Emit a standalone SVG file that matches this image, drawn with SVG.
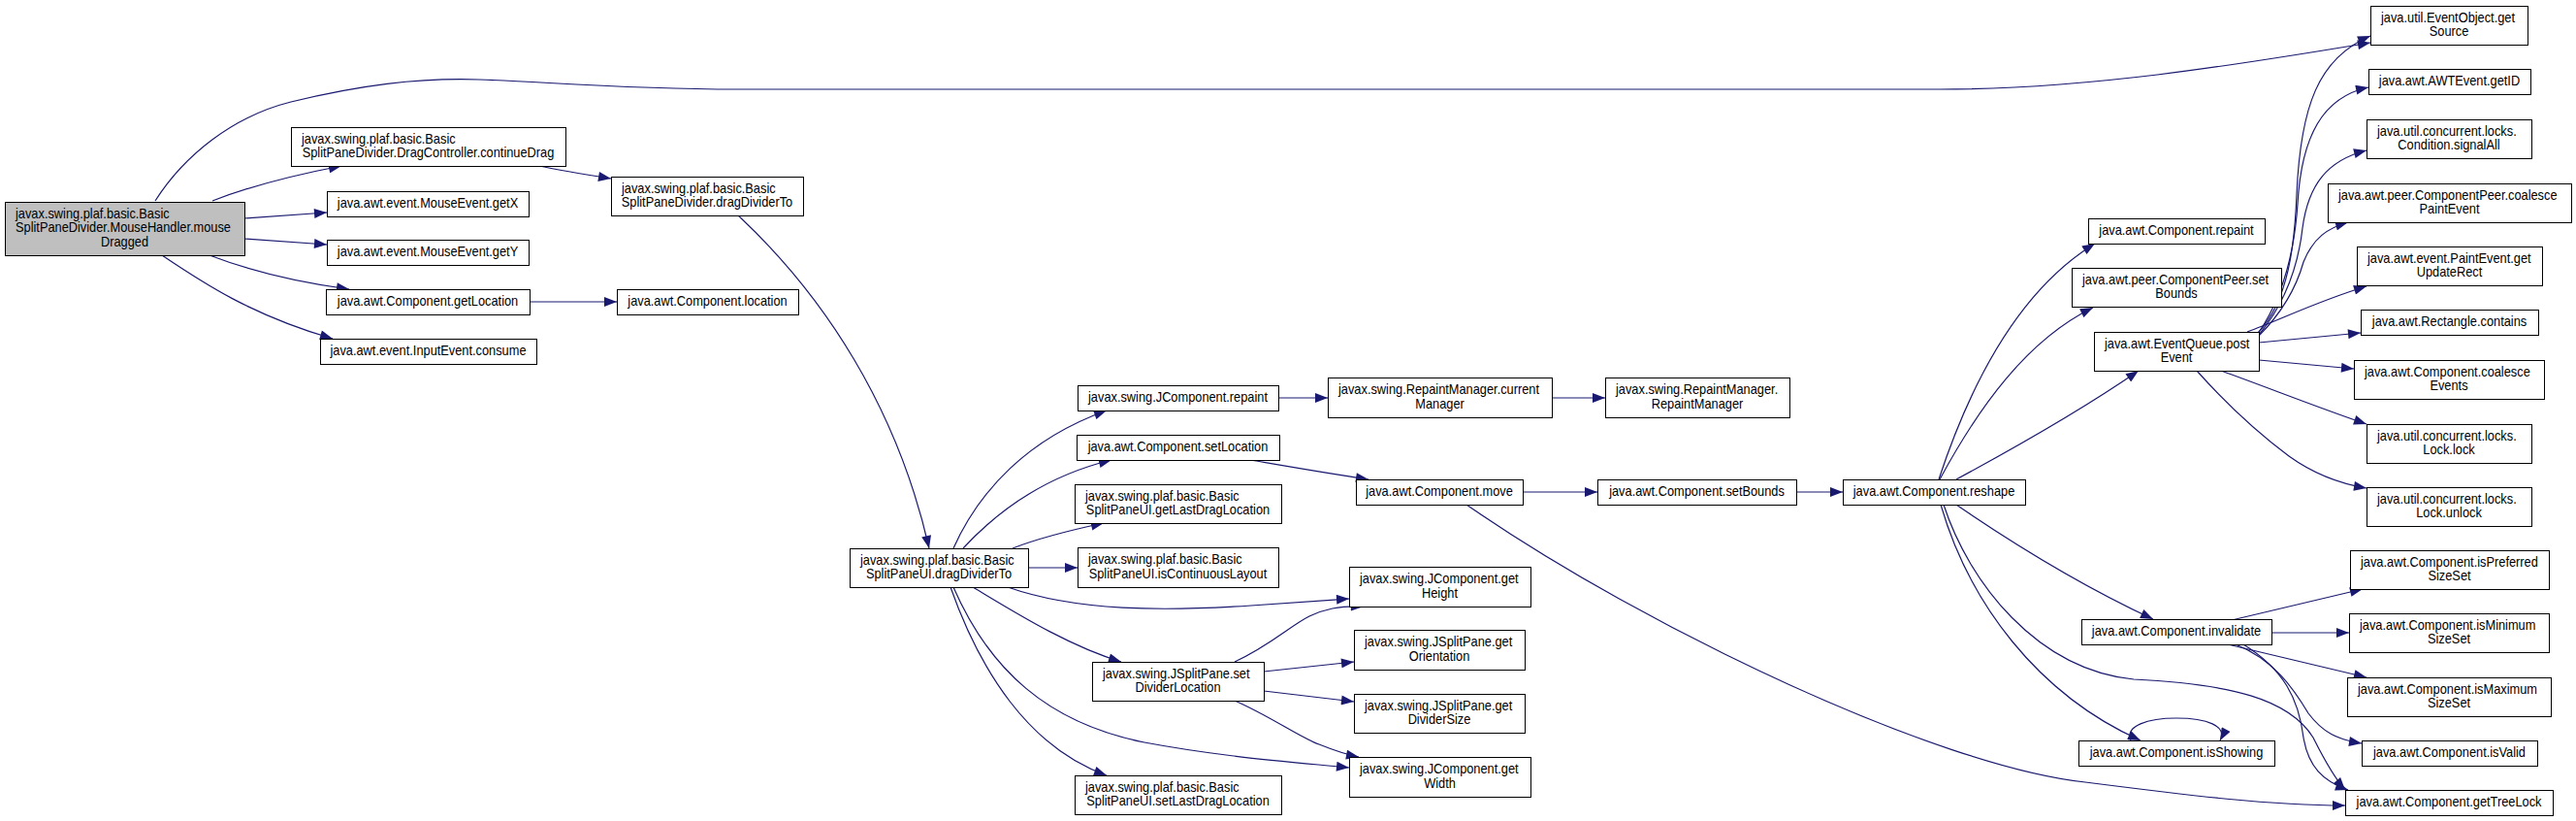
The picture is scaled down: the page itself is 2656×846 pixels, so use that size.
<svg xmlns="http://www.w3.org/2000/svg" width="2656" height="846" viewBox="0 0 2656 846">
<style>
.n rect{fill:#fff;stroke:#000;stroke-width:1}
.n.root rect{fill:#bfbfbf}
text{font-family:"Liberation Sans",Arial,Helvetica,sans-serif;font-size:14px;fill:#000}
.m{text-anchor:middle}
.e path{fill:none;stroke:#191970;stroke-width:1.2;marker-end:url(#a)}
</style>
<defs>
<marker id="a" markerUnits="userSpaceOnUse" markerWidth="14" markerHeight="10" viewBox="0 0 13 10" refX="13" refY="5" orient="auto"><polygon points="0,0 13,5 0,10" fill="#191970"/></marker>
</defs>
<rect width="2656" height="846" fill="#fff"/>
<g id="edges" class="e">
<path d="M160,207 C190,160 240,120 300,105 C370,88 430,80 494,82 C560,84 640,92 760,92 L2000,92 C2150,92 2300,68 2444,44"/>
<path d="M219,207 C255,193 300,181 352,171"/>
<path d="M252,225 L337,219"/>
<path d="M252,246 L337,252"/>
<path d="M216,263 C250,276 300,290 360,298"/>
<path d="M167,263 C210,292 260,325 343,349"/>
<path d="M556,171 C580,176 605,180 630,184"/>
<path d="M546,311 L636,311"/>
<path d="M761,222 C850,305 925,420 958,565"/>
<path d="M983,565 C1010,505 1060,452 1141,423"/>
<path d="M993,565 C1030,525 1080,490 1146,474"/>
<path d="M1044,565 C1075,553 1105,546 1138,539"/>
<path d="M1060,585 L1111,585"/>
<path d="M1039,605 C1110,630 1200,630 1290,624 C1330,621 1360,619 1391,617"/>
<path d="M1003,605 C1045,630 1100,665 1156,682"/>
<path d="M980,605 C1010,690 1060,770 1141,799"/>
<path d="M983,605 C1020,690 1080,745 1180,765 C1260,780 1330,785 1391,791"/>
<path d="M1318,410 L1369,410"/>
<path d="M1600,410 L1655,410"/>
<path d="M1289,474 C1330,481 1370,488 1411,494"/>
<path d="M1570,507 L1647,507"/>
<path d="M1852,507 L1900,507"/>
<path d="M1512,520 C1700,650 2000,790 2150,806 C2260,820 2340,830 2418,830"/>
<path d="M1273,682 C1310,665 1330,645 1350,635 C1365,628 1380,624 1406,625"/>
<path d="M1303,692 L1396,682"/>
<path d="M1303,712 L1396,723"/>
<path d="M1273,722 C1310,738 1340,760 1360,767 C1375,773 1385,777 1401,780"/>
<path d="M1999,494 C2030,400 2080,300 2160,251"/>
<path d="M2000,494 C2040,420 2090,350 2158,317"/>
<path d="M2017,494 C2080,460 2150,420 2205,382"/>
<path d="M2017,520 C2090,570 2160,610 2220,638"/>
<path d="M2001,520 C2030,620 2100,715 2207,763"/>
<path d="M2004,520 C2030,600 2100,690 2200,700 C2300,705 2360,720 2385,760 C2400,790 2410,805 2418,814"/>
<path d="M2197,763 C2190,748 2215,740 2244,740 C2275,740 2297,748 2289,763"/>
<path d="M2328,343 C2360,310 2366,250 2368,200 C2372,110 2390,60 2444,37"/>
<path d="M2328,344 C2355,305 2366,255 2369,210 C2373,140 2395,100 2442,90"/>
<path d="M2329,345 C2358,310 2370,270 2374,235 C2380,190 2400,165 2440,155"/>
<path d="M2329,346 C2355,320 2368,295 2375,270 C2385,245 2400,235 2421,229"/>
<path d="M2317,342 C2350,330 2390,310 2440,295"/>
<path d="M2329,353 L2434,343"/>
<path d="M2329,371 L2427,380"/>
<path d="M2290,382 C2340,400 2390,420 2440,437"/>
<path d="M2265,382 C2290,410 2320,440 2360,470 C2385,488 2410,498 2440,503"/>
<path d="M2301,639 L2436,607"/>
<path d="M2342,652 L2422,652"/>
<path d="M2297,664 L2440,698"/>
<path d="M2305,664 C2345,680 2365,710 2380,735 C2395,755 2410,762 2435,766"/>
<path d="M2313,664 C2355,690 2370,720 2375,760 C2380,790 2395,805 2421,814"/>
</g>
<g id="n_mouseDragged" class="n root"><rect x="5.5" y="208.5" width="247" height="55"/><text transform="translate(16,224.5) scale(.915,1)">javax.swing.plaf.basic.Basic</text><text transform="translate(16,239) scale(.915,1)">SplitPaneDivider.MouseHandler.mouse</text><text class="m" transform="translate(128.5,253.5) scale(.915,1)">Dragged</text></g>
<g id="n_continueDrag" class="n"><rect x="300.5" y="131.5" width="283" height="40"/><text transform="translate(311,147.5) scale(.915,1)">javax.swing.plaf.basic.Basic</text><text class="m" transform="translate(441.5,162) scale(.915,1)">SplitPaneDivider.DragController.continueDrag</text></g>
<g id="n_getX" class="n"><rect x="337.5" y="197.5" width="208" height="26"/><text class="m" transform="translate(441,214) scale(.915,1)">java.awt.event.MouseEvent.getX</text></g>
<g id="n_getY" class="n"><rect x="337.5" y="247.5" width="208" height="26"/><text class="m" transform="translate(441,264) scale(.915,1)">java.awt.event.MouseEvent.getY</text></g>
<g id="n_getLocation" class="n"><rect x="336.5" y="298.5" width="210" height="26"/><text class="m" transform="translate(441,315) scale(.915,1)">java.awt.Component.getLocation</text></g>
<g id="n_consume" class="n"><rect x="330.5" y="349.5" width="223" height="26"/><text class="m" transform="translate(441.5,366) scale(.915,1)">java.awt.event.InputEvent.consume</text></g>
<g id="n_dragDividerTo" class="n"><rect x="630.5" y="182.5" width="198" height="40"/><text transform="translate(641,198.5) scale(.915,1)">javax.swing.plaf.basic.Basic</text><text class="m" transform="translate(729,213) scale(.915,1)">SplitPaneDivider.dragDividerTo</text></g>
<g id="n_location" class="n"><rect x="636.5" y="298.5" width="187" height="26"/><text class="m" transform="translate(729.5,315) scale(.915,1)">java.awt.Component.location</text></g>
<g id="n_uiDragDividerTo" class="n"><rect x="876.5" y="565.5" width="184" height="40"/><text transform="translate(887,581.5) scale(.915,1)">javax.swing.plaf.basic.Basic</text><text class="m" transform="translate(968,596) scale(.915,1)">SplitPaneUI.dragDividerTo</text></g>
<g id="n_jRepaint" class="n"><rect x="1111.5" y="397.5" width="207" height="26"/><text class="m" transform="translate(1214.5,414) scale(.915,1)">javax.swing.JComponent.repaint</text></g>
<g id="n_setLocation" class="n"><rect x="1110.5" y="448.5" width="209" height="26"/><text class="m" transform="translate(1214.5,465) scale(.915,1)">java.awt.Component.setLocation</text></g>
<g id="n_getLastDragLocation" class="n"><rect x="1108.5" y="499.5" width="213" height="40"/><text transform="translate(1119,515.5) scale(.915,1)">javax.swing.plaf.basic.Basic</text><text class="m" transform="translate(1214.5,530) scale(.915,1)">SplitPaneUI.getLastDragLocation</text></g>
<g id="n_isContinuousLayout" class="n"><rect x="1111.5" y="564.5" width="207" height="41"/><text transform="translate(1122,581) scale(.915,1)">javax.swing.plaf.basic.Basic</text><text class="m" transform="translate(1214.5,595.5) scale(.915,1)">SplitPaneUI.isContinuousLayout</text></g>
<g id="n_setDividerLocation" class="n"><rect x="1126.5" y="682.5" width="177" height="40"/><text transform="translate(1137,698.5) scale(.915,1)">javax.swing.JSplitPane.set</text><text class="m" transform="translate(1214.5,713) scale(.915,1)">DividerLocation</text></g>
<g id="n_setLastDragLocation" class="n"><rect x="1108.5" y="799.5" width="213" height="40"/><text transform="translate(1119,815.5) scale(.915,1)">javax.swing.plaf.basic.Basic</text><text class="m" transform="translate(1214.5,830) scale(.915,1)">SplitPaneUI.setLastDragLocation</text></g>
<g id="n_currentManager" class="n"><rect x="1369.5" y="389.5" width="231" height="41"/><text transform="translate(1380,406) scale(.915,1)">javax.swing.RepaintManager.current</text><text class="m" transform="translate(1484.5,420.5) scale(.915,1)">Manager</text></g>
<g id="n_move" class="n"><rect x="1398.5" y="494.5" width="172" height="26"/><text class="m" transform="translate(1484,511) scale(.915,1)">java.awt.Component.move</text></g>
<g id="n_getHeight" class="n"><rect x="1391.5" y="584.5" width="187" height="41"/><text transform="translate(1402,601) scale(.915,1)">javax.swing.JComponent.get</text><text class="m" transform="translate(1484.5,615.5) scale(.915,1)">Height</text></g>
<g id="n_getOrientation" class="n"><rect x="1396.5" y="649.5" width="176" height="41"/><text transform="translate(1407,666) scale(.915,1)">javax.swing.JSplitPane.get</text><text class="m" transform="translate(1484,680.5) scale(.915,1)">Orientation</text></g>
<g id="n_getDividerSize" class="n"><rect x="1396.5" y="715.5" width="176" height="40"/><text transform="translate(1407,731.5) scale(.915,1)">javax.swing.JSplitPane.get</text><text class="m" transform="translate(1484,746) scale(.915,1)">DividerSize</text></g>
<g id="n_getWidth" class="n"><rect x="1391.5" y="780.5" width="187" height="41"/><text transform="translate(1402,797) scale(.915,1)">javax.swing.JComponent.get</text><text class="m" transform="translate(1484.5,811.5) scale(.915,1)">Width</text></g>
<g id="n_RepaintManager" class="n"><rect x="1655.5" y="389.5" width="190" height="41"/><text transform="translate(1666,406) scale(.915,1)">javax.swing.RepaintManager.</text><text class="m" transform="translate(1750,420.5) scale(.915,1)">RepaintManager</text></g>
<g id="n_setBounds" class="n"><rect x="1647.5" y="494.5" width="205" height="26"/><text class="m" transform="translate(1749.5,511) scale(.915,1)">java.awt.Component.setBounds</text></g>
<g id="n_reshape" class="n"><rect x="1900.5" y="494.5" width="188" height="26"/><text class="m" transform="translate(1994,511) scale(.915,1)">java.awt.Component.reshape</text></g>
<g id="n_cRepaint" class="n"><rect x="2153.5" y="225.5" width="182" height="26"/><text class="m" transform="translate(2244,242) scale(.915,1)">java.awt.Component.repaint</text></g>
<g id="n_peerSetBounds" class="n"><rect x="2136.5" y="276.5" width="216" height="40"/><text transform="translate(2147,292.5) scale(.915,1)">java.awt.peer.ComponentPeer.set</text><text class="m" transform="translate(2244,307) scale(.915,1)">Bounds</text></g>
<g id="n_postEvent" class="n"><rect x="2159.5" y="342.5" width="170" height="40"/><text transform="translate(2170,358.5) scale(.915,1)">java.awt.EventQueue.post</text><text class="m" transform="translate(2244,373) scale(.915,1)">Event</text></g>
<g id="n_invalidate" class="n"><rect x="2146.5" y="638.5" width="196" height="26"/><text class="m" transform="translate(2244,655) scale(.915,1)">java.awt.Component.invalidate</text></g>
<g id="n_isShowing" class="n"><rect x="2143.5" y="763.5" width="202" height="26"/><text class="m" transform="translate(2244,780) scale(.915,1)">java.awt.Component.isShowing</text></g>
<g id="n_getSource" class="n"><rect x="2444.5" y="6.5" width="162" height="40"/><text transform="translate(2455,22.5) scale(.915,1)">java.util.EventObject.get</text><text class="m" transform="translate(2525,37) scale(.915,1)">Source</text></g>
<g id="n_getID" class="n"><rect x="2442.5" y="71.5" width="167" height="26"/><text class="m" transform="translate(2525.5,88) scale(.915,1)">java.awt.AWTEvent.getID</text></g>
<g id="n_signalAll" class="n"><rect x="2440.5" y="123.5" width="170" height="40"/><text transform="translate(2451,139.5) scale(.915,1)">java.util.concurrent.locks.</text><text class="m" transform="translate(2525,154) scale(.915,1)">Condition.signalAll</text></g>
<g id="n_coalescePaintEvent" class="n"><rect x="2400.5" y="189.5" width="251" height="40"/><text transform="translate(2411,205.5) scale(.915,1)">java.awt.peer.ComponentPeer.coalesce</text><text class="m" transform="translate(2525.5,220) scale(.915,1)">PaintEvent</text></g>
<g id="n_getUpdateRect" class="n"><rect x="2430.5" y="254.5" width="191" height="40"/><text transform="translate(2441,270.5) scale(.915,1)">java.awt.event.PaintEvent.get</text><text class="m" transform="translate(2525.5,285) scale(.915,1)">UpdateRect</text></g>
<g id="n_contains" class="n"><rect x="2434.5" y="319.5" width="183" height="26"/><text class="m" transform="translate(2525.5,336) scale(.915,1)">java.awt.Rectangle.contains</text></g>
<g id="n_coalesceEvents" class="n"><rect x="2427.5" y="371.5" width="196" height="40"/><text transform="translate(2438,387.5) scale(.915,1)">java.awt.Component.coalesce</text><text class="m" transform="translate(2525,402) scale(.915,1)">Events</text></g>
<g id="n_lock" class="n"><rect x="2440.5" y="437.5" width="170" height="40"/><text transform="translate(2451,453.5) scale(.915,1)">java.util.concurrent.locks.</text><text class="m" transform="translate(2525,468) scale(.915,1)">Lock.lock</text></g>
<g id="n_unlock" class="n"><rect x="2440.5" y="502.5" width="170" height="40"/><text transform="translate(2451,518.5) scale(.915,1)">java.util.concurrent.locks.</text><text class="m" transform="translate(2525,533) scale(.915,1)">Lock.unlock</text></g>
<g id="n_isPreferredSizeSet" class="n"><rect x="2423.5" y="567.5" width="205" height="40"/><text transform="translate(2434,583.5) scale(.915,1)">java.awt.Component.isPreferred</text><text class="m" transform="translate(2525.5,598) scale(.915,1)">SizeSet</text></g>
<g id="n_isMinimumSizeSet" class="n"><rect x="2422.5" y="632.5" width="206" height="40"/><text transform="translate(2433,648.5) scale(.915,1)">java.awt.Component.isMinimum</text><text class="m" transform="translate(2525,663) scale(.915,1)">SizeSet</text></g>
<g id="n_isMaximumSizeSet" class="n"><rect x="2420.5" y="698.5" width="210" height="40"/><text transform="translate(2431,714.5) scale(.915,1)">java.awt.Component.isMaximum</text><text class="m" transform="translate(2525,729) scale(.915,1)">SizeSet</text></g>
<g id="n_isValid" class="n"><rect x="2435.5" y="763.5" width="181" height="26"/><text class="m" transform="translate(2525.5,780) scale(.915,1)">java.awt.Component.isValid</text></g>
<g id="n_getTreeLock" class="n"><rect x="2418.5" y="814.5" width="214" height="26"/><text class="m" transform="translate(2525,831) scale(.915,1)">java.awt.Component.getTreeLock</text></g>
</svg>
